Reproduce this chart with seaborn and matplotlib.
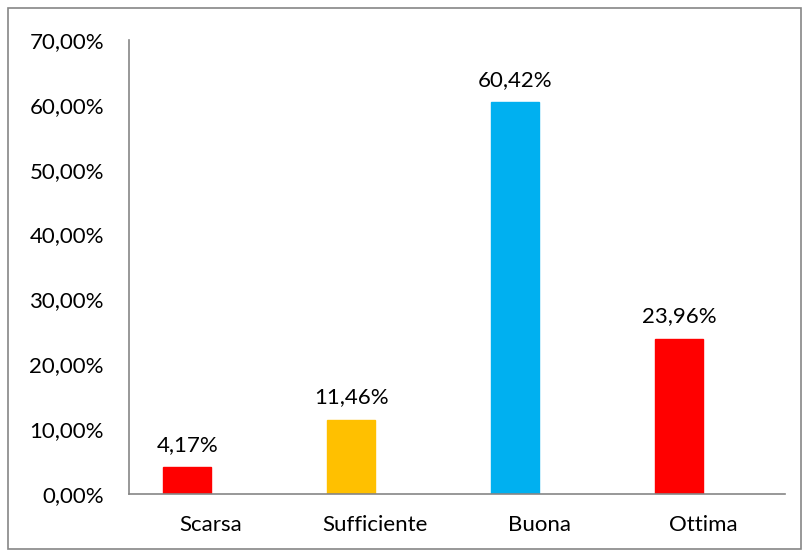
import numpy as np
import pandas as pd
import seaborn as sns
import matplotlib.pyplot as plt
from matplotlib.ticker import FuncFormatter, FixedLocator

categorie = ['Scarsa', 'Sufficiente', 'Buona', 'Ottima']
percentuali = [4.17, 11.46, 60.42, 23.96]
colori = ['#FF0000', '#FFC000', '#00B0F0', '#FF0000']

# come in Excel: una seconda serie vuota sposta le barre a sinistra
df = pd.DataFrame({
    'Giudizio': categorie * 2,
    'Percentuale': percentuali + [np.nan] * 4,
    'Serie': ['A'] * 4 + ['B'] * 4,
})

sns.set_style('white')
plt.rcParams['font.family'] = ['Lato', 'DejaVu Sans']

fig = plt.figure(figsize=(8.09, 5.57), dpi=100)
ax = fig.add_axes([129 / 809, 63 / 557, 656 / 809, 454 / 557])

sns.barplot(data=df, x='Giudizio', y='Percentuale', hue='Serie', dodge=True,
            palette=['#FF0000', '#FFFFFF'], legend=False, width=0.58,
            saturation=1, ax=ax)

barre = ax.containers[0]
for patch, c in zip(barre, colori):
    patch.set_facecolor(c)
    patch.set_edgecolor(c)

# etichette sopra le barre
for patch, v in zip(barre, percentuali):
    ax.text(patch.get_x() + patch.get_width() / 2, v + 1.9,
            f'{v:.2f}%'.replace('.', ','), ha='center', va='bottom',
            fontsize=16, color='black')

ax.set_ylim(0, 70)
ax.set_xlim(-0.5, 3.5)
ax.set_yticks(range(0, 71, 10))
ax.yaxis.set_major_formatter(FuncFormatter(lambda v, p: f'{v:.2f}%'.replace('.', ',')))
ax.xaxis.set_minor_locator(FixedLocator([-0.5, 0.5, 1.5, 2.5, 3.5]))
ax.tick_params(axis='x', which='major', length=0, pad=15, labelsize=16, labelcolor='black')
ax.tick_params(axis='x', which='minor', length=6, width=1.2, color='#868686', direction='out')
ax.tick_params(axis='y', length=6, width=1.2, color='#868686', direction='out', pad=12,
               labelsize=16, labelcolor='black')
ax.set_xlabel('')
ax.set_ylabel('')

for s in ['top', 'right']:
    ax.spines[s].set_visible(False)
for s in ['left', 'bottom']:
    ax.spines[s].set_color('#868686')
    ax.spines[s].set_linewidth(1.2)

# bordo esterno del grafico
fig.patches.append(plt.Rectangle((8 / 809, 8 / 557), 793 / 809, 541 / 557,
                                 transform=fig.transFigure, fill=False,
                                 edgecolor='#868686', linewidth=1.2))

fig.savefig('out.png', dpi=100)
